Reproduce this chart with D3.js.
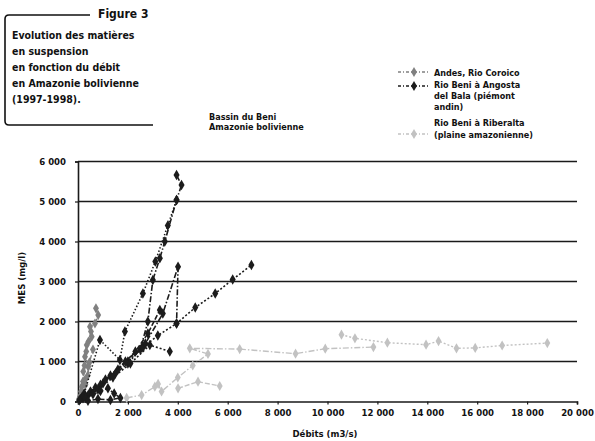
<!DOCTYPE html>
<html>
<head>
<meta charset="utf-8">
<script src="https://cdn.jsdelivr.net/npm/d3@7"></script>
<style>
  body { margin: 0; background: #fff; }
  svg { display: block; }
  text { font-family: "DejaVu Sans Condensed", "Liberation Sans Narrow", "Arial Narrow", sans-serif; font-stretch: condensed; fill: #111; }
</style>
</head>
<body>
<svg id="chart" width="595" height="441"></svg>
<script>
// Débit (m3/s) / MES (mg/l) pairs, one array per flood event
const andesSegments = [
  [[80, 120], [150, 370], [280, 540], [210, 750], [410, 870], [280, 1120], [350, 1410], [550, 1620], [480, 1870], [680, 1950], [810, 2160], [720, 2330]],
  [[40, 60], [120, 250], [200, 500], [260, 900], [330, 1250], [420, 1500], [520, 1750]],
  [[60, 30], [180, 180], [300, 420], [390, 650], [460, 980], [600, 1300]]
];

const angostaSegments = [
  [[100, 60], [500, 250], [1000, 450], [1500, 700], [2000, 950], [2500, 1300], [2800, 2000], [3000, 3040], [3280, 3580], [3480, 4000], [3950, 5040], [4150, 5410], [3950, 5660]],
  [[150, 100], [700, 350], [1300, 650], [2000, 1000], [2600, 1350], [3200, 1650], [3950, 1950], [4700, 2350], [5500, 2700], [6200, 3050], [6950, 3410]],
  [[300, 120], [900, 420], [1600, 800], [2300, 1250], [2800, 1700], [3280, 2290]],
  [[250, 200], [880, 1540], [1680, 1040], [1880, 1750], [2600, 2700], [3100, 3500], [3600, 4400], [3950, 5040]],
  [[400, 150], [1100, 550], [1900, 1000], [2700, 1450], [3400, 2200], [4010, 3370], [3950, 1950]],
  [[200, 80], [800, 300], [1400, 600], [2100, 950], [2880, 1410], [3680, 1250]],
  [[50, 30], [300, 90], [600, 180], [900, 260], [1200, 330], [1450, 200], [1700, 90], [1300, 40], [800, 60], [400, 20]]
];

const riberaltaSegments = [
  [[1950, 90], [2550, 160], [3080, 370], [3210, 440], [3350, 250], [4000, 600], [4600, 900], [5210, 1190], [4480, 1330], [6480, 1310], [8720, 1195], [9910, 1320], [11840, 1360]],
  [[10560, 1670], [11100, 1580], [12400, 1470], [13950, 1420], [14450, 1510], [15170, 1330], [15920, 1340], [17000, 1400], [18810, 1460]],
  [[4010, 330], [4810, 495], [5680, 387]]
];

const xTicks = [0, 2000, 4000, 6000, 8000, 10000, 12000, 14000, 16000, 18000, 20000];
const yTicks = [0, 1000, 2000, 3000, 4000, 5000, 6000];

const titleLines = ["Evolution des matières", "en suspension", "en fonction du débit", "en Amazonie bolivienne", "(1997-1998)."];
const basinLines = ["Bassin du Beni", "Amazonie bolivienne"];
const legendLabels = [
  ["Andes, Rio Coroico"],
  ["Rio Beni à Angosta", "del Bala (piémont", "andin)"],
  ["Rio Beni à Riberalta", "(plaine amazonienne)"]
];

const svg = d3.select("#chart");
const fmt = v => v === 0 ? "0" : d3.format(",")(v).replace(/,/g, " ");

const x = d3.scaleLinear().domain([0, 20000]).range([78, 577]);
const y = d3.scaleLinear().domain([0, 6000]).range([401.5, 161.5]);

// horizontal grid
svg.append("g")
  .selectAll("line")
  .data(yTicks.filter(d => d > 0))
  .join("line")
  .attr("x1", x(0)).attr("x2", x(20000))
  .attr("y1", d => y(d)).attr("y2", d => y(d))
  .attr("stroke", "#1a1a1a").attr("stroke-width", 1.6);

// axes
const xAxis = d3.axisBottom(x).tickValues(xTicks).tickFormat(fmt).tickSize(3).tickPadding(5);
const gx = svg.append("g").attr("transform", `translate(0,${y(0)})`).call(xAxis);
gx.select(".domain").attr("stroke", "#1a1a1a").attr("stroke-width", 1.6);
gx.selectAll(".tick line").attr("stroke", "#1a1a1a").attr("stroke-width", 1.2);
gx.selectAll("text").attr("font-size", 9.5).attr("font-weight", "bold").attr("fill", "#222");

const yAxis = d3.axisLeft(y).tickValues(yTicks).tickFormat(fmt).tickSize(3).tickPadding(9);
const gy = svg.append("g").attr("transform", `translate(${x(0)},0)`).call(yAxis);
gy.select(".domain").attr("stroke", "#1a1a1a").attr("stroke-width", 1.6);
gy.selectAll(".tick line").attr("stroke", "#1a1a1a").attr("stroke-width", 1.2);
gy.selectAll("text").attr("font-size", 9.5).attr("font-weight", "bold").attr("fill", "#222");

svg.append("text").attr("x", 325).attr("y", 437).attr("text-anchor", "middle")
  .attr("font-size", 9.5).attr("font-weight", "bold").text("Débits (m3/s)");
svg.append("text").attr("transform", "translate(25,278) rotate(-90)").attr("text-anchor", "middle")
  .attr("font-size", 9.5).attr("font-weight", "bold").text("MES (mg/l)");

// series
const line = d3.line().x(d => x(d[0])).y(d => y(d[1]));
const dashes = ["6,2,1.5,2", "2,2", "5,2", "1.5,2"];
const series = [
  { segs: riberaltaSegments, color: "#c2c2c2", width: 1.4, size: 30 },
  { segs: andesSegments, color: "#808080", width: 1.4, size: 30 },
  { segs: angostaSegments, color: "#1c1c1c", width: 1.6, size: 32 }
];

series.forEach(s => {
  const g = svg.append("g");
  s.segs.forEach((seg, i) => {
    g.append("path").datum(seg)
      .attr("d", line)
      .attr("fill", "none")
      .attr("stroke", s.color)
      .attr("stroke-width", s.width)
      .attr("stroke-dasharray", dashes[i % dashes.length]);
    g.selectAll(null).data(seg).join("path")
      .attr("transform", d => `translate(${x(d[0])},${y(d[1])})`)
      .attr("d", d3.symbol(d3.symbolDiamond, s.size))
      .attr("fill", s.color);
  });
});

// legend
const legendColors = ["#808080", "#1c1c1c", "#c2c2c2"];
const legendRows = [[72], [84, 95, 106], [122, 134]];
const legendMarkerRow = [72, 86, 134];
legendLabels.forEach((lines, i) => {
  const my = legendMarkerRow[i];
  svg.append("line").attr("x1", 398).attr("x2", 430).attr("y1", my).attr("y2", my)
    .attr("stroke", legendColors[i]).attr("stroke-width", 1.4).attr("stroke-dasharray", "3,2,1,2");
  svg.append("path").attr("transform", `translate(414,${my})`)
    .attr("d", d3.symbol(d3.symbolDiamond, 30)).attr("fill", legendColors[i]);
  lines.forEach((t, j) => {
    svg.append("text").attr("x", 434).attr("y", legendRows[i][j] + 3.5)
      .attr("font-size", 9).attr("font-weight", "bold").text(t);
  });
});

// basin annotation
basinLines.forEach((t, j) => {
  svg.append("text").attr("x", 209).attr("y", 119.5 + j * 10.5)
    .attr("font-size", 9).attr("font-weight", "bold").text(t);
});

// figure caption box
svg.append("path")
  .attr("d", "M90,15 L9,15 Q5,15 5,19 L5,121 Q5,125 9,125 L153,125")
  .attr("fill", "none").attr("stroke", "#111").attr("stroke-width", 1.6);
svg.append("text").attr("x", 98).attr("y", 18).attr("font-size", 12).attr("font-weight", "bold").text("Figure 3");
titleLines.forEach((t, j) => {
  svg.append("text").attr("x", 12).attr("y", 38.5 + j * 16)
    .attr("font-size", 10.5).attr("font-weight", "bold").text(t);
});
</script>
</body>
</html>
